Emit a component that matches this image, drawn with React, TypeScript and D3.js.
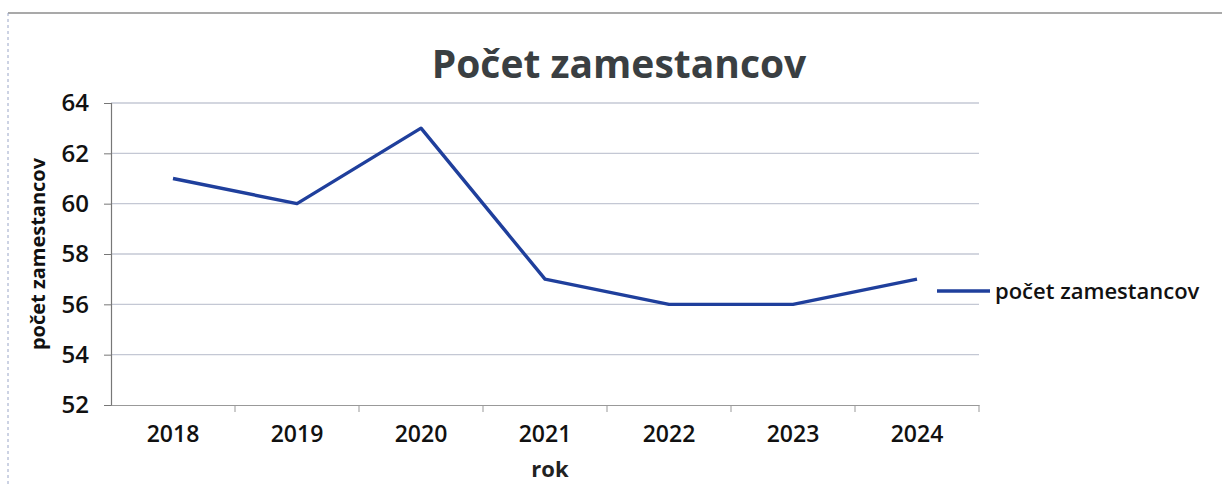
import { useEffect, useRef } from 'react';
import * as d3 from 'd3';

// chart values
const years = ['2018', '2019', '2020', '2021', '2022', '2023', '2024'];
const employees = [61, 60, 63, 57, 56, 56, 57];
const yTicks = [52, 54, 56, 58, 60, 62, 64];

const App = () => {
  const ref = useRef<SVGSVGElement>(null);

  useEffect(() => {
    const W = 1222;
    const H = 486;
    const plot = { left: 111, right: 979, top: 103, bottom: 405 };
    const font = '"Open Sans", "Liberation Sans", sans-serif';

    const svg = d3.select(ref.current);
    svg.selectAll('*').remove();
    svg.attr('width', W).attr('height', H);

    svg.append('rect').attr('width', W).attr('height', H).attr('fill', '#fff');

    // chart frame (top + left edge of the scanned chart box)
    svg.append('line')
      .attr('x1', 8).attr('x2', W).attr('y1', 13).attr('y2', 13)
      .attr('stroke', '#555').attr('stroke-width', 1.2);
    svg.append('line')
      .attr('x1', 8).attr('x2', 8).attr('y1', 13).attr('y2', H)
      .attr('stroke', '#9aa6c8').attr('stroke-width', 1).attr('stroke-dasharray', '3,3');

    const x = d3.scaleBand<string>().domain(years).range([plot.left, plot.right]);
    const y = d3.scaleLinear().domain([52, 64]).range([plot.bottom, plot.top]);

    // gridlines
    svg.append('g')
      .selectAll('line')
      .data(yTicks.filter(t => t !== 52))
      .join('line')
      .attr('x1', plot.left).attr('x2', plot.right)
      .attr('y1', d => y(d)).attr('y2', d => y(d))
      .attr('stroke', '#c4c8d4').attr('stroke-width', 1.3);

    // y axis
    const yAxis = svg.append('g')
      .attr('transform', `translate(${plot.left},0)`)
      .call(d3.axisLeft(y).tickValues(yTicks).tickSize(7).tickPadding(15));
    yAxis.select('.domain').attr('stroke', '#777').attr('stroke-width', 1.2);
    yAxis.selectAll('.tick line').attr('stroke', '#777');
    yAxis.selectAll('.tick text')
      .attr('font-family', font).attr('font-size', 24).attr('font-weight', 600).attr('fill', '#111');

    // x axis
    const xAxis = svg.append('g')
      .attr('transform', `translate(0,${plot.bottom})`)
      .call(d3.axisBottom(x).tickSize(0).tickPadding(21));
    xAxis.select('.domain').attr('stroke', '#999').attr('stroke-width', 1.2);
    xAxis.selectAll('.tick text')
      .attr('font-family', font).attr('font-size', 23).attr('font-weight', 600).attr('fill', '#111');
    // category boundary ticks
    xAxis.append('g')
      .selectAll('line')
      .data(years)
      .join('line')
      .attr('x1', d => (x(d) ?? 0) + x.bandwidth())
      .attr('x2', d => (x(d) ?? 0) + x.bandwidth())
      .attr('y1', 0).attr('y2', 7)
      .attr('stroke', '#999');

    // series line
    const line = d3.line<number>()
      .x((_, i) => (x(years[i]) ?? 0) + x.bandwidth() / 2)
      .y(d => y(d));
    svg.append('path')
      .datum(employees)
      .attr('fill', 'none')
      .attr('stroke', '#1f3f9c')
      .attr('stroke-width', 3.4)
      .attr('stroke-linejoin', 'round')
      .attr('d', line);

    // title
    svg.append('text')
      .attr('x', 619).attr('y', 78)
      .attr('text-anchor', 'middle')
      .attr('font-family', font).attr('font-weight', 'bold').attr('font-size', 39)
      .attr('fill', '#3a3f42')
      .text('Počet zamestancov');

    // axis titles
    svg.append('text')
      .attr('transform', `translate(45,${(plot.top + plot.bottom) / 2}) rotate(-90)`)
      .attr('text-anchor', 'middle')
      .attr('font-family', font).attr('font-weight', 'bold').attr('font-size', 20)
      .attr('fill', '#111')
      .text('počet zamestancov');
    svg.append('text')
      .attr('x', (plot.left + plot.right) / 2 + 5).attr('y', 477)
      .attr('text-anchor', 'middle')
      .attr('font-family', font).attr('font-weight', 'bold').attr('font-size', 22)
      .attr('fill', '#222')
      .text('rok');

    // legend
    svg.append('line')
      .attr('x1', 937).attr('x2', 990).attr('y1', 291).attr('y2', 291)
      .attr('stroke', '#1f3f9c').attr('stroke-width', 3.4);
    svg.append('text')
      .attr('x', 995).attr('y', 299)
      .attr('font-family', font).attr('font-size', 22).attr('font-weight', 600).attr('fill', '#111')
      .text('počet zamestancov');
  }, []);

  return <svg ref={ref} style={{ position: 'absolute', left: 0, top: 0 }} />;
};

export default App;
